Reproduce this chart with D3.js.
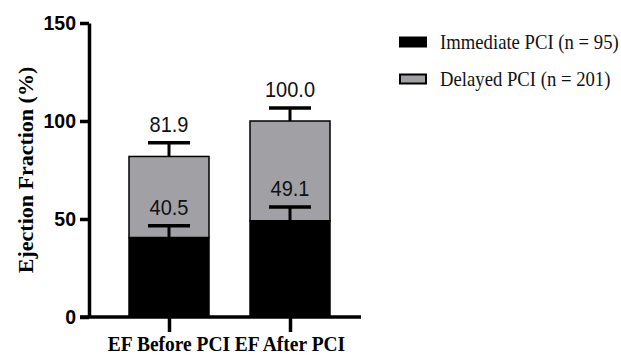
<!DOCTYPE html>
<html><head><meta charset="utf-8">
<script src="https://cdn.jsdelivr.net/npm/d3@7"></script>
<style>body{margin:0;background:#fff;}svg{display:block;}</style>
</head><body>
<svg id="c" width="621" height="355"></svg>
<script>
const categories = ["EF Before PCI", "EF After PCI"];
const immediate = [40.5, 49.1];
const totals = [81.9, 100.0];
const immediateErr = [6.0, 7.0];
const totalErr = [7.0, 6.6];
const yTicks = [0, 50, 100, 150];
const seriesNames = ["Immediate PCI (n = 95)", "Delayed PCI (n = 201)"];
const seriesColors = ["#000000", "#a1a1a5"];

const SANS = "'Liberation Sans', Arial, sans-serif";
const SERIF = "'Liberation Serif', 'Times New Roman', serif";

const svg = d3.select("#c");
const axisX = 89, x0 = 80, x1 = 361;
const y = d3.scaleLinear().domain([0, 150]).range([317, 23]);
const x = d3.scalePoint().domain(categories).range([169, 290]);
const bw = 80, capW = 42;

// bars
const g = svg.append("g");
categories.forEach((c, i) => {
  const cx = x(c);
  g.append("rect").attr("x", cx - bw/2).attr("y", y(totals[i]))
    .attr("width", bw).attr("height", y(immediate[i]) - y(totals[i]))
    .attr("fill", seriesColors[1]).attr("stroke", "#000").attr("stroke-width", 1.5);
  g.append("rect").attr("x", cx - bw/2).attr("y", y(immediate[i]))
    .attr("width", bw).attr("height", y(0) - y(immediate[i]))
    .attr("fill", seriesColors[0]).attr("stroke", "#000").attr("stroke-width", 1.5);
  [[immediate[i], immediateErr[i]], [totals[i], totalErr[i]]].forEach(([v, e]) => {
    g.append("line").attr("x1", cx).attr("x2", cx).attr("y1", y(v)).attr("y2", y(v + e))
      .attr("stroke", "#000").attr("stroke-width", 3);
    g.append("line").attr("x1", cx - capW/2).attr("x2", cx + capW/2).attr("y1", y(v + e)).attr("y2", y(v + e))
      .attr("stroke", "#000").attr("stroke-width", 3.5);
    g.append("text").attr("transform", `translate(${cx},${y(v + e) - 11}) scale(1,1.1)`)
      .attr("text-anchor", "middle").attr("font-family", SANS)
      .attr("font-size", 20).attr("fill", "#111").text(v.toFixed(1));
  });
});

// y axis
const ya = svg.append("g").attr("transform", `translate(${axisX},0)`)
  .call(d3.axisLeft(y).tickValues(yTicks).tickSize(9).tickSizeOuter(0).tickPadding(4));
ya.select(".domain").attr("stroke-width", 3.5);
ya.selectAll(".tick line").attr("stroke-width", 3.5);
ya.selectAll(".tick text").attr("font-family", SANS)
  .attr("font-weight", "bold").attr("font-size", 19.5).attr("fill", "#000");

// x axis
svg.append("line").attr("x1", x0).attr("x2", x1).attr("y1", y(0)).attr("y2", y(0))
  .attr("stroke", "#000").attr("stroke-width", 3.5);
const xa = svg.append("g").attr("transform", `translate(0,${y(0)})`)
  .call(d3.axisBottom(x).tickSize(15).tickSizeOuter(0).tickFormat(""));
xa.select(".domain").remove();
xa.selectAll(".tick line").attr("stroke-width", 3.5);
categories.forEach(c => {
  svg.append("text").attr("transform", `translate(${x(c)},351) scale(1,1.12)`)
    .attr("text-anchor", "middle").attr("font-family", SERIF)
    .attr("font-weight", "bold").attr("font-size", 19.5).attr("fill", "#000").text(c);
});

// y title
svg.append("text").attr("transform", "translate(32.5,170) rotate(-90) scale(1.1,1)")
  .attr("text-anchor", "middle").attr("font-family", SERIF)
  .attr("font-weight", "bold").attr("font-size", 20).attr("fill", "#000")
  .text("Ejection Fraction (%)");

// legend
seriesNames.forEach((n, i) => {
  const ly = 42 + i * 37;
  svg.append("rect").attr("x", 400).attr("y", ly - 4.5).attr("width", 26).attr("height", 9)
    .attr("fill", seriesColors[i]).attr("stroke", "#000").attr("stroke-width", 2);
  svg.append("text").attr("transform", `translate(440,${ly + 7}) scale(1,1.12)`)
    .attr("font-family", SERIF)
    .attr("font-size", 18.7).attr("fill", "#111").text(n);
});
</script>
</body></html>
